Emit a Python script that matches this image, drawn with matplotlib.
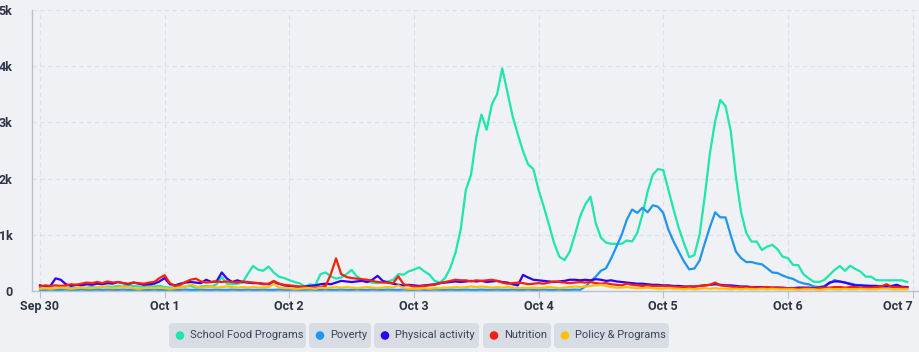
import numpy as np
import matplotlib.pyplot as plt
from matplotlib.patches import FancyBboxPatch, Circle

plt.rcParams['font.family'] = ['Roboto', 'DejaVu Sans']

# hourly counts, Sep 30 00:00 -> Oct 6 23:00
school_food = [
    50, 40, 50, 40, 50, 60, 50, 60, 50, 60, 70, 60,
    70, 80, 70, 90, 80, 100, 90, 80, 70, 90, 80, 90,
    70, 60, 60, 70, 80, 90, 60, 80, 90, 80, 120, 250,
    130, 120, 130, 150, 300, 445, 380, 360, 435, 330, 255, 230,
    195, 160, 135, 80, 120, 100, 300, 330, 260, 220, 240, 300,
    375, 260, 200, 170, 150, 140, 160, 170, 200, 300, 290, 350,
    380, 420, 350, 290, 180, 150, 230, 410, 680, 1090, 1800, 2070,
    2730, 3140, 2870, 3320, 3500, 3960, 3540, 3110, 2790, 2490, 2250, 2170,
    1800, 1500, 1180, 850, 610, 550, 700, 1000, 1330, 1540, 1680, 1210,
    950, 860, 840, 840, 840, 900, 880, 1030, 1360, 1770, 2070, 2170,
    2150, 1800, 1450, 1120, 850, 600, 640, 1000, 1680, 2460, 3020, 3400,
    3290, 2850, 2030, 1400, 1030, 880, 880, 730, 790, 820, 745, 610,
    585, 465, 460, 300, 225, 165, 160, 195, 285, 375, 445, 360,
    450, 390, 345, 255, 255, 195, 190, 190, 190, 190, 190, 160,
]
poverty = [
    20, 20, 25, 20, 20, 25, 20, 20, 25, 20, 20, 25,
    20, 25, 20, 20, 25, 20, 20, 25, 20, 20, 25, 20,
    20, 25, 20, 20, 25, 20, 20, 25, 20, 20, 25, 20,
    20, 25, 20, 20, 25, 20, 20, 25, 20, 20, 25, 20,
    20, 25, 20, 20, 25, 20, 20, 25, 20, 20, 25, 20,
    20, 25, 20, 20, 25, 20, 20, 25, 20, 20, 25, 20,
    20, 25, 20, 20, 25, 20, 20, 25, 20, 20, 25, 20,
    20, 25, 20, 20, 25, 20, 20, 25, 20, 20, 25, 20,
    20, 25, 20, 20, 25, 20, 20, 25, 20, 80, 165, 255,
    360, 405, 585, 790, 1000, 1270, 1450, 1390, 1480, 1400, 1525, 1500,
    1390, 1090, 880, 700, 525, 385, 400, 540, 850, 1140, 1400, 1310,
    1310, 990, 700, 585, 515, 515, 490, 475, 405, 330, 320, 275,
    240, 215, 165, 135, 120, 80, 70, 90, 135, 195, 165, 150,
    135, 110, 100, 100, 90, 90, 85, 85, 80, 80, 75, 70,
]
physical_activity = [
    100, 80, 90, 225, 200, 120, 90, 110, 100, 120, 110, 130,
    120, 140, 130, 160, 140, 120, 150, 130, 110, 120, 130, 170,
    230, 120, 100, 130, 150, 160, 150, 140, 200, 160, 170, 330,
    220, 160, 190, 160, 150, 140, 140, 130, 120, 150, 130, 100,
    90, 80, 70, 80, 90, 100, 120, 130, 120, 150, 180, 170,
    160, 170, 180, 160, 200, 270, 180, 150, 130, 110, 100, 110,
    100, 90, 100, 110, 120, 140, 150, 160, 170, 160, 170, 180,
    170, 180, 160, 170, 180, 160, 150, 120, 100, 285, 240, 200,
    190, 180, 170, 160, 170, 180, 200, 200, 190, 200, 190, 210,
    200, 180, 190, 170, 160, 150, 140, 130, 130, 120, 110, 110,
    100, 100, 90, 90, 80, 80, 80, 90, 100, 110, 120, 110,
    100, 100, 90, 80, 80, 70, 70, 70, 60, 60, 60, 60,
    50, 50, 60, 60, 60, 50, 60, 70, 150, 170, 170, 150,
    120, 100, 100, 90, 90, 90, 80, 80, 90, 110, 70, 70,
]
nutrition = [
    80, 100, 90, 100, 90, 100, 120, 110, 130, 150, 140, 160,
    140, 170, 150, 160, 140, 130, 150, 140, 130, 150, 160, 230,
    280, 140, 90, 110, 160, 200, 220, 170, 150, 160, 170, 160,
    170, 160, 150, 170, 160, 150, 140, 120, 130, 180, 130, 110,
    100, 90, 80, 70, 60, 60, 70, 90, 300, 580, 300, 250,
    230, 220, 210, 200, 180, 160, 150, 150, 140, 260, 120, 100,
    80, 80, 90, 100, 110, 140, 160, 180, 200, 190, 190, 170,
    190, 180, 190, 200, 180, 150, 130, 140, 150, 140, 120, 130,
    140, 130, 150, 170, 160, 150, 140, 150, 160, 150, 160, 140,
    130, 140, 120, 110, 100, 130, 110, 100, 90, 100, 90, 90,
    90, 80, 80, 70, 70, 80, 80, 90, 100, 110, 150, 100,
    90, 80, 70, 70, 60, 70, 60, 60, 70, 60, 60, 50,
    50, 50, 40, 50, 50, 40, 50, 60, 60, 70, 70, 60,
    70, 70, 60, 60, 60, 70, 80, 120, 70, 70, 60, 60,
]
policy_programs = [
    40, 50, 40, 50, 60, 50, 40, 50, 60, 50, 50, 60,
    70, 60, 50, 60, 70, 60, 50, 40, 50, 60, 50, 60,
    50, 40, 50, 60, 70, 120, 80, 60, 70, 80, 60, 70,
    80, 70, 60, 70, 60, 70, 60, 60, 70, 130, 60, 50,
    50, 40, 40, 50, 50, 40, 60, 50, 60, 70, 60, 70,
    60, 50, 60, 70, 60, 50, 60, 70, 60, 100, 50, 40,
    40, 40, 50, 40, 50, 50, 60, 60, 70, 60, 70, 80,
    70, 80, 70, 60, 70, 60, 70, 60, 50, 60, 50, 60,
    50, 60, 70, 60, 50, 60, 70, 80, 70, 80, 90, 100,
    110, 90, 70, 60, 60, 70, 60, 50, 50, 60, 50, 40,
    40, 50, 40, 40, 30, 40, 30, 40, 50, 40, 50, 40,
    40, 30, 40, 30, 40, 30, 30, 40, 30, 40, 30, 30,
    30, 30, 20, 30, 30, 30, 20, 30, 40, 30, 30, 40,
    30, 30, 40, 30, 30, 30, 40, 40, 30, 30, 30, 30,
]

day_labels = ["Sep 30", "Oct 1", "Oct 2", "Oct 3", "Oct 4", "Oct 5", "Oct 6", "Oct 7"]
y_ticks = [0, 1000, 2000, 3000, 4000, 5000]
y_labels = ["0", "1k", "2k", "3k", "4k", "5k"]

series = [
    ("School Food Programs", school_food, "#1ee6ad"),
    ("Poverty", poverty, "#1f95f2"),
    ("Physical activity", physical_activity, "#3000f5"),
    ("Nutrition", nutrition, "#fa1e0e"),
    ("Policy & Programs", policy_programs, "#fcc20a"),
]

bg = "#eff1f4"
axis_col = "#b7c1d1"
text_col = "#2c3547"

fig = plt.figure(figsize=(9.2, 3.52), dpi=100, facecolor=bg)
W, H = 920, 352
x0, x1, ytop, ybot = 32, 918, 10, 291
ax = fig.add_axes([x0 / W, (H - ybot) / H, (x1 - x0) / W, (ybot - ytop) / H])
ax.set_facecolor(bg)

hours = np.arange(len(school_food))
for name, vals, col in series:
    ax.plot(hours, vals, color=col, lw=1.6, solid_joinstyle="round")

px_per_h = (912.5 - 40) / 168
ax.set_xlim(-(40 - x0) / px_per_h, (x1 - 40) / px_per_h)
ax.set_ylim(0, 5000)

ax.set_xticks(np.arange(0, 169, 24))
ax.set_xticklabels(day_labels)
ax.set_yticks(y_ticks)
ax.set_yticklabels(y_labels)

ax.grid(True, color="#dbe1ea", linestyle=(0, (4, 3)), linewidth=0.8)
ax.set_axisbelow(True)
for s in ["top", "right"]:
    ax.spines[s].set_visible(False)
for s in ["left", "bottom"]:
    ax.spines[s].set_color(axis_col)
    ax.spines[s].set_linewidth(1.0)

ax.tick_params(axis="x", length=5, color=axis_col, pad=1.5, labelsize=9, labelcolor=text_col)
ax.tick_params(axis="y", length=0, pad=14, labelsize=9, labelcolor=text_col)
for lbl in ax.get_xticklabels() + ax.get_yticklabels():
    lbl.set_fontweight("semibold")
ax.get_xticklabels()[-1].set_horizontalalignment("right")

# legend chips (pixel positions from the reference)
chips = [(169, 306), (309, 371), (374, 479), (483, 551), (554, 669)]
chip_top, chip_bot = 323, 348
for (cx0, cx1), (name, vals, col) in zip(chips, series):
    box = FancyBboxPatch((cx0, H - chip_bot), cx1 - cx0, chip_bot - chip_top,
                         boxstyle="round,pad=0,rounding_size=4",
                         transform=None, facecolor="#d8dde5", edgecolor="none")
    fig.add_artist(box)
    cy = H - (chip_top + chip_bot) / 2
    fig.add_artist(Circle((cx0 + 11, cy), 4.3, transform=None, facecolor=col, edgecolor="none"))
    fig.text((cx0 + 21) / W, cy / H, name, fontsize=8, color="#3b4456",
             ha="left", va="center")

fig.savefig("out.png", dpi=100, facecolor=bg)
